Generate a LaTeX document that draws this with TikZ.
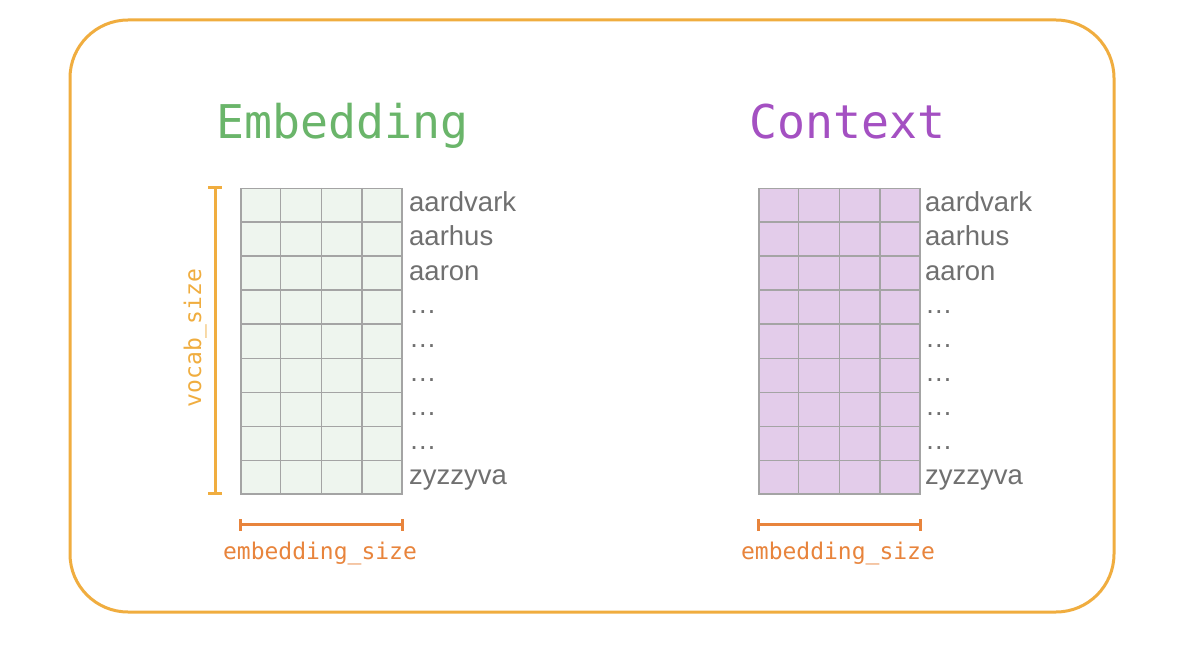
\documentclass[tikz,border=0pt]{standalone}
\usepackage{fontspec}
\usetikzlibrary{calc}
\setmainfont{Liberation Sans}
\newfontfamily\monof{DejaVu Sans Mono}
\definecolor{frameyel}{HTML}{F0AD3F}
\definecolor{embgreen}{HTML}{6AB56A}
\definecolor{ctxpurple}{HTML}{A450C2}
\definecolor{sizeorange}{HTML}{E8843C}
\definecolor{gridgray}{HTML}{A4A4A4}
\definecolor{labgray}{HTML}{707070}
\definecolor{greenfill}{HTML}{EEF5EE}
\definecolor{purplefill}{HTML}{E3CCEA}
\tikzset{
  title/.style={anchor=base west, inner sep=0pt, font=\monof\fontsize{46.5}{50}\selectfont},
  word/.style={anchor=base west, inner sep=0pt, text=labgray, font=\fontsize{27.5}{30}\selectfont},
  dimlabel/.style={inner sep=0pt, font=\monof\fontsize{23}{26}\selectfont},
  gridbox/.style={draw=gridgray, line width=1.5pt, minimum width=161pt, minimum height=305pt, inner sep=0pt, anchor=north west},
  gridline/.style={draw=gridgray, line width=1.5pt},
  bracket/.style={line width=3pt}
}
\begin{document}
\begin{tikzpicture}[x=1pt,y=-1pt]
\useasboundingbox (0,0) rectangle (1200,663);
\fill[white] (0,0) rectangle (1200,663);
\draw[frameyel, line width=3pt, rounded corners=58pt] (70,20) rectangle (1114,612);

% titles
\node[title, text=embgreen] (embt) at (216,139) {Embedding};
\node[title, text=ctxpurple] (ctxt) at (749,139) {Context};

% grids
\node[gridbox, fill=greenfill] (G1) at (240,188) {};
\node[gridbox, fill=purplefill] (G2) at (758,188) {};
\foreach \g in {G1,G2}{
  \foreach \i in {1,2,3}{
    \draw[gridline] ($(\g.north west)!\i/4!(\g.north east)$) -- ($(\g.south west)!\i/4!(\g.south east)$);
  }
  \foreach \j in {1,...,8}{
    \draw[gridline] ($(\g.north west)!\j/9!(\g.south west)$) -- ($(\g.north east)!\j/9!(\g.south east)$);
  }
}

% word labels
\foreach \g/\x in {G1/409,G2/925}{
  \node[word] (\g w1) at (\x,212) {aardvark};
  \node[word] (\g w2) at (\x,246) {aarhus};
  \node[word] (\g w3) at (\x,280) {aaron};
  \node[word] (\g w4) at (\x,313) {\ldots};
  \node[word] (\g w5) at (\x,347) {\ldots};
  \node[word] (\g w6) at (\x,381) {\ldots};
  \node[word] (\g w7) at (\x,415) {\ldots};
  \node[word] (\g w8) at (\x,449) {\ldots};
  \node[word] (\g w9) at (\x,484) {zyzzyva};
}

% vocab_size bracket
\coordinate (vt) at (215,188);
\coordinate (vb) at (215,493);
\draw[bracket, frameyel] (vt) -- (vb);
\draw[bracket, frameyel] ([xshift=-7pt]vt) -- ([xshift=7pt]vt);
\draw[bracket, frameyel] ([xshift=-7pt]vb) -- ([xshift=7pt]vb);
\node[dimlabel, text=frameyel, rotate=90, anchor=base] (vocab) at (201,338) {vocab\_size};

% embedding_size brackets
\foreach \g/\c in {G1/320,G2/838}{
  \coordinate (\g hl) at ($(\g.south west)+(0,30)$);
  \coordinate (\g hr) at ($(\g.south east)+(0,30)$);
  \draw[bracket, sizeorange] (\g hl) -- (\g hr);
  \draw[bracket, sizeorange] ([yshift=-6pt]\g hl) -- ([yshift=6pt]\g hl);
  \draw[bracket, sizeorange] ([yshift=-6pt]\g hr) -- ([yshift=6pt]\g hr);
  \node[dimlabel, text=sizeorange, anchor=base] (\g es) at (\c,559) {embedding\_size};
}
\end{tikzpicture}
\end{document}
